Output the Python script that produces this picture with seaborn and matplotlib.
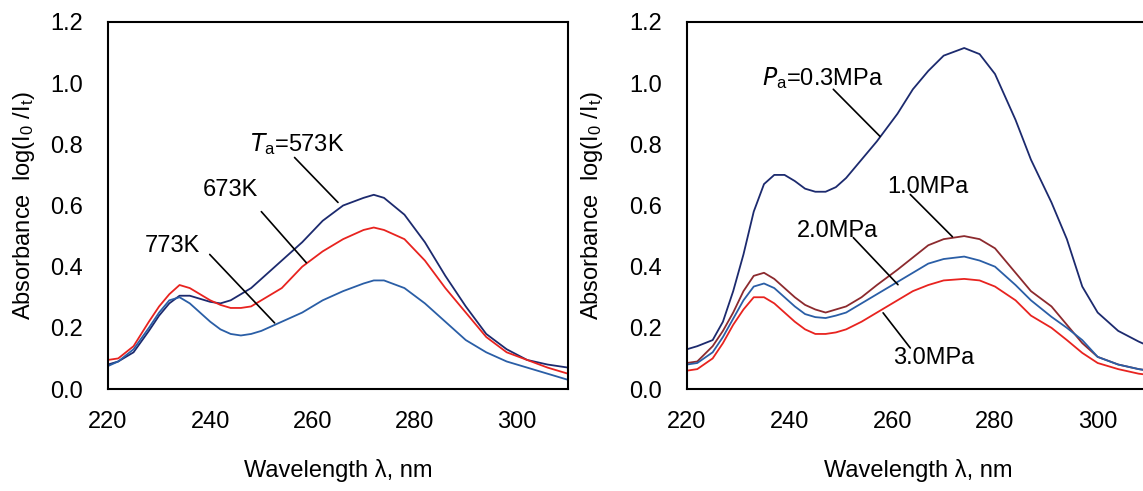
import numpy as np
import pandas as pd
import matplotlib
matplotlib.use("Agg")
import matplotlib.pyplot as plt
import seaborn as sns

# ---------------- data ----------------
wl_left = [220, 222, 225, 228, 230, 232, 234, 236, 238, 240, 242, 244, 246, 248, 250,
           254, 258, 262, 266, 270, 272, 274, 278, 282, 286, 290, 294, 298, 302, 306, 310]
abs_573K = [0.08, 0.09, 0.12, 0.19, 0.24, 0.28, 0.305, 0.305, 0.295, 0.285, 0.28, 0.29, 0.31, 0.33, 0.36,
            0.42, 0.48, 0.55, 0.60, 0.625, 0.635, 0.625, 0.57, 0.48, 0.37, 0.27, 0.18, 0.13, 0.095, 0.08, 0.07]
abs_673K = [0.095, 0.10, 0.14, 0.22, 0.27, 0.31, 0.34, 0.33, 0.31, 0.29, 0.275, 0.265, 0.265, 0.27, 0.29,
            0.33, 0.40, 0.45, 0.49, 0.52, 0.528, 0.52, 0.49, 0.42, 0.33, 0.25, 0.17, 0.12, 0.095, 0.07, 0.05]
abs_773K = [0.075, 0.09, 0.13, 0.20, 0.25, 0.29, 0.30, 0.28, 0.25, 0.22, 0.195, 0.18, 0.175, 0.18, 0.19,
            0.22, 0.25, 0.29, 0.32, 0.345, 0.355, 0.355, 0.33, 0.28, 0.22, 0.16, 0.12, 0.09, 0.07, 0.05, 0.03]

wl_right = [220, 222, 225, 227, 229, 231, 233, 235, 237, 239, 241, 243, 245, 247, 249, 251, 254,
            257, 261, 264, 267, 270, 274, 277, 280, 284, 287, 291, 294, 297, 300, 304, 308, 310]
abs_03MPa = [0.13, 0.14, 0.16, 0.22, 0.32, 0.44, 0.58, 0.67, 0.70, 0.70, 0.68, 0.655, 0.645, 0.645, 0.66, 0.69, 0.75,
             0.81, 0.90, 0.98, 1.04, 1.09, 1.115, 1.095, 1.03, 0.88, 0.75, 0.61, 0.49, 0.335, 0.25, 0.19, 0.155, 0.14]
abs_10MPa = [0.085, 0.09, 0.14, 0.19, 0.25, 0.32, 0.37, 0.38, 0.36, 0.33, 0.30, 0.275, 0.26, 0.25, 0.26, 0.27, 0.30,
             0.34, 0.39, 0.43, 0.47, 0.49, 0.50, 0.49, 0.46, 0.38, 0.32, 0.27, 0.21, 0.15, 0.105, 0.08, 0.065, 0.06]
abs_20MPa = [0.08, 0.085, 0.12, 0.17, 0.23, 0.29, 0.335, 0.345, 0.33, 0.30, 0.27, 0.245, 0.235, 0.232, 0.24, 0.25, 0.28,
             0.31, 0.35, 0.38, 0.41, 0.425, 0.433, 0.42, 0.40, 0.34, 0.29, 0.236, 0.20, 0.16, 0.105, 0.08, 0.065, 0.06]
abs_30MPa = [0.06, 0.065, 0.10, 0.15, 0.21, 0.26, 0.30, 0.30, 0.28, 0.25, 0.22, 0.195, 0.18, 0.18, 0.185, 0.195, 0.22,
             0.25, 0.29, 0.32, 0.34, 0.355, 0.36, 0.355, 0.335, 0.29, 0.24, 0.20, 0.16, 0.118, 0.085, 0.065, 0.05, 0.046]

xticks = [220, 240, 260, 280, 300]
yticks = [0.0, 0.2, 0.4, 0.6, 0.8, 1.0, 1.2]

# annotation labels: (text, text anchor, line start, line end) in data units
left_notes = [
    (r"$\mathit{T}_{a}$=573K", (247.7, 0.80), (256.5, 0.757), (265.0, 0.61)),
    ("673K", (238.5, 0.65), (250.0, 0.58), (258.8, 0.413)),
    ("773K", (227.2, 0.466), (239.9, 0.44), (252.6, 0.216)),
]
right_notes = [
    (r"$\mathit{P}_{a}$=0.3MPa", (234.6, 1.016), (248.5, 0.98), (257.6, 0.826)),
    ("1.0MPa", (259.0, 0.662), (263.5, 0.636), (271.7, 0.498)),
    ("2.0MPa", (241.4, 0.515), (252.4, 0.495), (261.1, 0.341)),
    ("3.0MPa", (260.2, 0.10), (258.2, 0.249), (263.5, 0.134)),
]

# ---------------- style ----------------
sns.set_theme(style="white")
plt.rcParams['font.family'] = ['Liberation Sans', 'DejaVu Sans']
plt.rcParams['mathtext.default'] = 'regular'

NAVY = "#1c2a6e"
RED = "#e8231f"
BLUE = "#2a5ea6"
MAROON = "#8c2a2e"

fig = plt.figure(figsize=(11.43, 4.91), dpi=100)
fig.patch.set_facecolor("white")
ax1 = fig.add_axes([108/1143, 102/491, 460/1143, 367/491])
ax2 = fig.add_axes([687/1143, 102/491, 462/1143, 367/491])

left_df = pd.DataFrame({"wl": wl_left * 3,
                        "A": abs_573K + abs_673K + abs_773K,
                        "s": ["573K"] * len(wl_left) + ["673K"] * len(wl_left) + ["773K"] * len(wl_left)})
right_df = pd.DataFrame({"wl": wl_right * 4,
                         "A": abs_03MPa + abs_10MPa + abs_20MPa + abs_30MPa,
                         "s": (["0.3"] * len(wl_right) + ["1.0"] * len(wl_right)
                               + ["2.0"] * len(wl_right) + ["3.0"] * len(wl_right))})

sns.lineplot(data=left_df, x="wl", y="A", hue="s", ax=ax1, legend=False,
             palette={"573K": NAVY, "673K": RED, "773K": BLUE}, linewidth=1.3)
sns.lineplot(data=right_df, x="wl", y="A", hue="s", ax=ax2, legend=False,
             palette={"0.3": NAVY, "1.0": MAROON, "2.0": BLUE, "3.0": RED}, linewidth=1.3)

FS = 17
for ax, ylx in ((ax1, -0.154), (ax2, -0.177)):
    ax.set_xlim(220, 310)
    ax.set_ylim(0, 1.2)
    ax.set_xticks(xticks)
    ax.set_yticks(yticks)
    ax.set_yticklabels([f"{v:.1f}" for v in yticks])
    ax.tick_params(direction="in", length=6, width=1.3, labelsize=FS, colors="black")
    ax.tick_params(axis="y", pad=18)
    ax.tick_params(axis="x", pad=16)
    for sp in ax.spines.values():
        sp.set_color("black")
        sp.set_linewidth(1.5)
        sp.set_visible(True)
    ax.set_xlabel("Wavelength λ, nm", fontsize=FS, color="black")
    ax.set_ylabel(r"Absorbance  log(I$_0$ /I$_t$)", fontsize=FS, color="black")
    ax.yaxis.set_label_coords(ylx, 0.5)
    ax.xaxis.set_label_coords(0.5, -0.19)
    ax.set_facecolor("white")

for ax, notes in ((ax1, left_notes), (ax2, right_notes)):
    for txt, pos, p0, p1 in notes:
        ax.text(pos[0], pos[1], txt, fontsize=FS, ha="left", va="center", color="black")
        ax.annotate("", xy=p1, xytext=p0,
                    arrowprops=dict(arrowstyle="-", color="black", lw=1.2, shrinkA=0, shrinkB=0))

fig.savefig("out.png", dpi=100, facecolor="white")
